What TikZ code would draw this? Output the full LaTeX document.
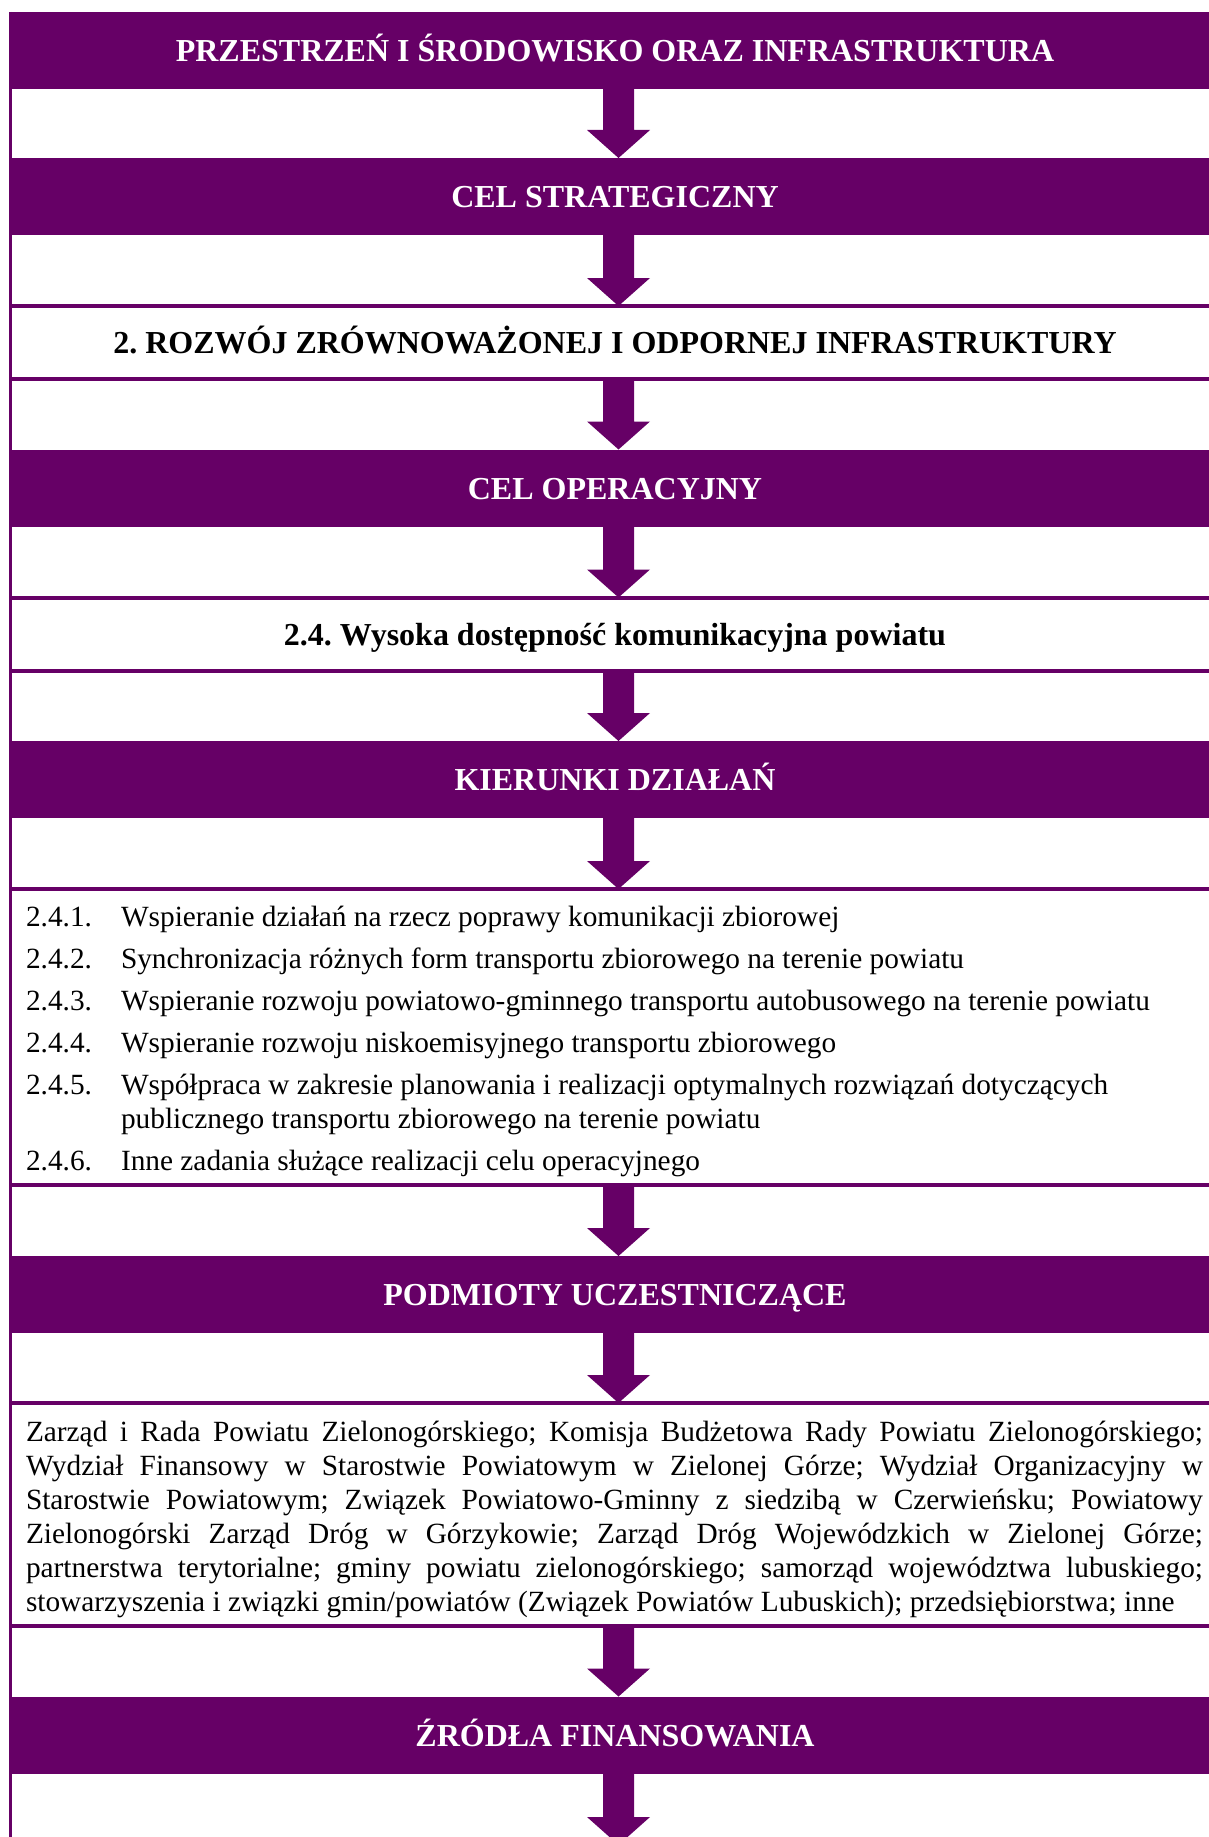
\documentclass[tikz,border=0pt]{standalone}
\usepackage{fontspec}
\setmainfont{Liberation Serif}
\usepackage{tikz}
\usetikzlibrary{calc}
\frenchspacing
\definecolor{fiolet}{RGB}{102,0,102}
\tikzset{bandbox/.style={fill=fiolet, text=white, inner sep=0, outer sep=0,
        minimum width=454.5pt, minimum height=28.875pt,
        text height=11pt, text depth=2.4pt,
        font=\fontsize{12}{14}\selectfont\bfseries}
}
\tikzset{goalbox/.style={bandbox, fill=none, text=black, minimum height=27.375pt}}
\tikzset{listbox/.style={inner sep=0, outer sep=0, minimum width=454.5pt}}
\tikzset{hrule/.style={draw=fiolet, line width=1.5pt}}
\tikzset{leftrule/.style={draw=fiolet, line width=1.125pt}}
\tikzset{fatarrow/.style={fill=fiolet,
        to path={($(\tikztostart)+(-12,0)$) -- ($(\tikztotarget)+(-12,28)$)
            -- ($(\tikztotarget)+(-28,28)$) -- ($(\tikztotarget)+(3.5,0)$)
            -- ($(\tikztotarget)+(35,28)$) -- ($(\tikztotarget)+(19,28)$)
            -- ($(\tikztostart)+(19,0)$) -- cycle}}
}
\tikzset{nr/.style={anchor=base west, inner sep=0, outer sep=0,
        font=\fontsize{11}{12.75}\selectfont}}

\begin{document}
\begin{tikzpicture}[x=0.375pt, y=0.375pt]
\useasboundingbox (0,0) rectangle (1208,-1837);
% Bands and boxes
\node[bandbox] (obszar) at (615,-50.5) {PRZESTRZEŃ I ŚRODOWISKO ORAZ INFRASTRUKTURA};
\node[bandbox] (celstr) at (615,-196.5) {CEL STRATEGICZNY};
\node[goalbox] (rozwoj) at (615,-342.5) {2. ROZWÓJ ZRÓWNOWAŻONEJ I ODPORNEJ INFRASTRUKTURY};
\node[bandbox] (celop) at (615,-488) {CEL OPERACYJNY};
\node[goalbox] (dostep) at (615,-634) {2.4. Wysoka dostępność komunikacyjna powiatu};
\node[bandbox] (kier) at (615,-779.5) {KIERUNKI DZIAŁAŃ};
\node[listbox, minimum height=111pt] (lista) at (615,-1037) {};
\node[bandbox] (podm) at (615,-1294.5) {PODMIOTY UCZESTNICZĄCE};
\node[listbox, minimum height=83.625pt] (uczest) at (615,-1514.5) {};
\node[bandbox] (zrodla) at (615,-1735) {ŹRÓDŁA FINANSOWANIA};
\coordinate (dalej) at (615,-1845);
%% Left edge
\coordinate (lt) at (10.5,-12);
\coordinate (lb) at (10.5,-1837);
\draw[leftrule] (lt) -- (lb);
% Box rules
\draw[hrule] (rozwoj.north west) -- (rozwoj.north east) (rozwoj.south west) -- (rozwoj.south east);
\draw[hrule] (dostep.north west) -- (dostep.north east) (dostep.south west) -- (dostep.south east);
\draw[hrule] (lista.north west) -- (lista.north east) (lista.south west) -- (lista.south east);
\draw[hrule] (uczest.north west) -- (uczest.north east) (uczest.south west) -- (uczest.south east);
% Directions
\node[nr] (nr1) at (26,-926) {2.4.1.};
\node[nr] (kd1) at (121,-926) {Wspieranie działań na rzecz poprawy komunikacji zbiorowej};
\node[nr] (nr2) at (26,-968) {2.4.2.};
\node[nr] (kd2) at (121,-968) {Synchronizacja różnych form transportu zbiorowego na terenie powiatu};
\node[nr] (nr3) at (26,-1010) {2.4.3.};
\node[nr] (kd3) at (121,-1010) {Wspieranie rozwoju powiatowo-gminnego transportu autobusowego na terenie powiatu};
\node[nr] (nr4) at (26,-1052) {2.4.4.};
\node[nr] (kd4) at (121,-1052) {Wspieranie rozwoju niskoemisyjnego transportu zbiorowego};
\node[nr] (nr5) at (26,-1094) {2.4.5.};
\node[nr] (kd5) at (121,-1094) {Współpraca w zakresie planowania i realizacji optymalnych rozwiązań dotyczących};
\node[nr] (kd5b) at (121,-1128) {publicznego transportu zbiorowego na terenie powiatu};
\node[nr] (nr6) at (26,-1170) {2.4.6.};
\node[nr] (kd6) at (121,-1170) {Inne zadania służące realizacji celu operacyjnego};
% Participants
\node[nr, text width=441.375pt, align=justify] (podmtekst) at (26,-1441) {Zarząd i Rada Powiatu Zielonogórskiego; Komisja Budżetowa Rady Powiatu Zielonogórskiego;\linebreak
Wydział Finansowy w Starostwie Powiatowym w Zielonej Górze; Wydział Organizacyjny w\linebreak
Starostwie Powiatowym; Związek Powiatowo-Gminny z siedzibą w Czerwieńsku; Powiatowy\linebreak
Zielonogórski Zarząd Dróg w Górzykowie; Zarząd Dróg Wojewódzkich w Zielonej Górze;\linebreak
partnerstwa terytorialne; gminy powiatu zielonogórskiego; samorząd województwa lubuskiego;\linebreak
stowarzyszenia i związki gmin/powiatów (Związek Powiatów Lubuskich); przedsiębiorstwa; inne};
% Arrows
\path[fatarrow] (obszar.south) to (celstr.north);
\path[fatarrow] (celstr.south) to (rozwoj.north);
\path[fatarrow] (rozwoj.south) to (celop.north);
\path[fatarrow] (celop.south) to (dostep.north);
\path[fatarrow] (dostep.south) to (kier.north);
\path[fatarrow] (kier.south) to (lista.north);
\path[fatarrow] (lista.south) to (podm.north);
\path[fatarrow] (podm.south) to (uczest.north);
\path[fatarrow] (uczest.south) to (zrodla.north);
\path[fatarrow] (zrodla.south) to (dalej);
\end{tikzpicture}
\end{document}
